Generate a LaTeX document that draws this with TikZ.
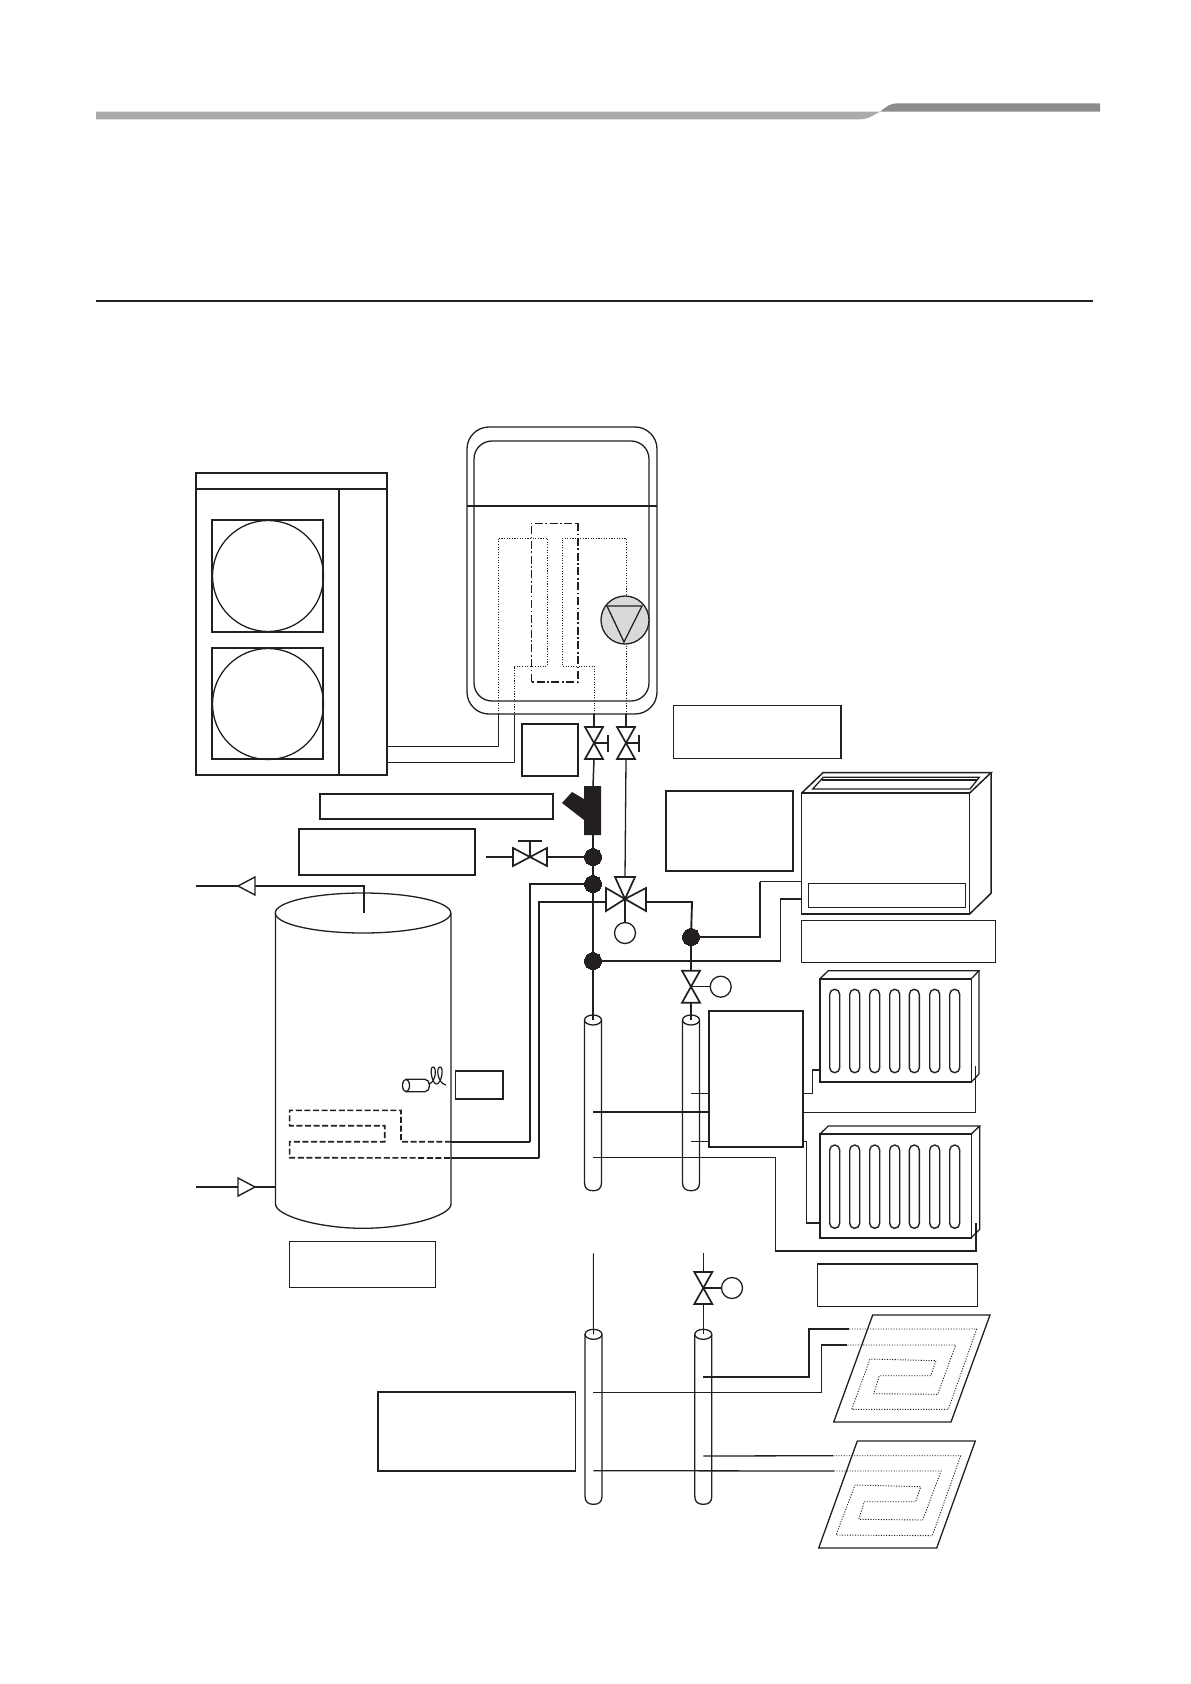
\documentclass[tikz,border=0pt]{standalone}
\usetikzlibrary{fit}
\definecolor{ink}{RGB}{35,31,32}
\tikzset{
  base/.style={draw=ink,line width=0.65pt,line join=miter},
  thin line/.style={draw=ink,line width=0.5pt},
  heavy/.style={draw=ink,line width=0.95pt},
  dots/.style={draw=ink,line width=0.45pt,dash pattern=on 0.55pt off 0.75pt},
  labelbox/.style={draw=ink,line width=0.6pt,inner sep=0pt,rectangle,fill=white},
  labelheavy/.style={labelbox,line width=0.85pt},
  junction/.style={circle,fill=ink,draw=ink,line width=0pt,minimum size=8.5pt,inner sep=0pt},
  actuator/.style={circle,draw=ink,line width=0.65pt,fill=white,minimum size=10.5pt,inner sep=0pt},
  valve/.style={draw=ink,line width=0.85pt,fill=white,line join=miter},
  slot/.style={draw=ink,line width=0.7pt,rounded corners=2.5pt},
}
\newcommand\boxn[6][labelbox]{\node[#1,fit={(#3,#4)(#5,#6)}] (#2) {};}
\newcommand\vvalve[3]{%
  \coordinate (#1-t) at (#2,#3-16);\coordinate (#1-b) at (#2,#3+16);\coordinate (#1-c) at (#2,#3);
  \draw[valve] (#2-9,#3-16) -- (#2+9,#3-16) -- (#2-9,#3+16) -- (#2+9,#3+16) -- cycle;}
\newcommand\pipe[5]{% name cx ytop ybottom
  \coordinate (#1-top) at (#2,#3);
  \draw[base,fill=white] (#2-8.5,#3) -- (#2-8.5,#4-8) .. controls (#2-8.5,#4-2) and (#2-5,#4) .. (#2,#4)
     .. controls (#2+5,#4) and (#2+8.5,#4-2) .. (#2+8.5,#4-8) -- (#2+8.5,#3);
  \draw[base,fill=white] (#2,#3) ellipse[x radius=8.5,y radius=5];}
\newcommand\slotrow[2]{\foreach \sx in {834.7,854.7,874.7,894.7,914.3,934.7,954.7}
  {\draw[slot] (\sx-5,#1) rectangle (\sx+5,#2);}}
\begin{document}
\begin{tikzpicture}[x=0.5pt,y=-0.5pt]
\useasboundingbox (0,0) rectangle (1190,1684);
% header bar
\fill[black!33] (96,111.7) -- (880,111.7) .. controls (872,116) and (868,119.3) .. (860,119.3) -- (96,119.3) -- cycle;
\fill[black!45] (880,111.7) .. controls (886,107) and (890,103.3) .. (897,103.3) -- (1100,103.3) -- (1100,111.7) -- cycle;
\coordinate (ruleL) at (95.6,300.7);\coordinate (ruleR) at (1093.4,300.7);
\draw[heavy] (ruleL) -- (ruleR);

% outdoor unit
\draw[base,line width=0.75pt] (196,473) rectangle (387,775);
\draw[base,line width=0.8pt] (196,489) -- (387,489);
\draw[base,line width=0.8pt] (339,489) -- (339,775);
\draw[base,line width=0.55pt] (212,520) rectangle (323,632);
\draw[base,line width=0.55pt] (212,648) rectangle (323,759);
\draw[base] (268,576) circle[radius=55.5];
\draw[base] (268,704) circle[radius=55.5];

% hydro unit
\draw[base] (467,427+0) [rounded corners=11pt] rectangle (657,714);
\draw[base] (474,441) [rounded corners=9pt] rectangle (649,701);
\draw[base] (467,506) -- (657,506);
\draw[draw=ink,line width=0.5pt,dash pattern=on 4pt off 1.3pt on 0.8pt off 1.3pt] (531,682) -- (531,523) -- (578,523);
\draw[draw=ink,line width=0.85pt,dash pattern=on 4pt off 1.3pt on 0.8pt off 1.3pt] (578,523) -- (578,682) -- (531,682);
\coordinate (d1) at (498,714);\coordinate (d2) at (514,714);\coordinate (d3) at (594,714);\coordinate (d4) at (626,714);
\draw[dots] (d1) -- (498,538) -- (547,538) -- (547,666) -- (514,666) -- (d2);
\draw[dots] (d3) -- (594,666) -- (562,666) -- (562,538) -- (626,538) -- (d4);
\coordinate (odu1) at (387,746);\coordinate (odu2) at (387,762);
\draw[thin line] (odu1) -- (498,746) -- (d1);
\draw[thin line] (odu2) -- (514,762) -- (d2);
\node[circle,draw=ink,line width=0.65pt,fill=black!15,minimum size=24pt,inner sep=0pt] (pump) at (625,620) {};
\draw[base] (607,606) -- (642,606) -- (624,642) -- cycle;

% label boxes
\boxn{b1}{522}{724}{578}{776}
\boxn{b2}{673.3}{705.7}{841}{758.3}
\boxn{b3}{320}{794}{553}{819}
\boxn[labelheavy]{b4}{299}{829}{475}{875}
\boxn[labelheavy]{b5}{665.7}{790.7}{793.3}{870.7}
\boxn{b6}{801.3}{920.3}{995.3}{962.3}
\boxn[labelheavy]{b7}{455.6}{1070.7}{503}{1099.3}
\boxn{b8}{289.6}{1241.3}{435.6}{1287.3}
\boxn{b9}{817.3}{1264}{977.3}{1306.3}
\boxn{b10}{378}{1392}{575.3}{1471}

% valves at unit
\vvalve{v1}{594}{743}
\vvalve{v2}{626}{743}
\coordinate (h1) at (608,743);\coordinate (h2) at (639,743);
\draw[base] (v1-c) -- (h1) (608,735) -- (608,752);
\draw[base] (v2-c) -- (h2) (639,735) -- (639,752);
\draw[base] (d3) -- (v1-t);
\draw[base] (d4) -- (v2-t);

% strainer
\coordinate (st-t) at (593,786);\coordinate (st-b) at (593,835);
\fill[ink] (584,786) -- (601,786) -- (601,835) -- (584,835) -- (584,820) -- (562,803) -- (572,792) -- (584,799) -- cycle;
\draw[base,line width=0.75pt] (v1-b) -- (st-t);

% junctions
\node[junction] (j1) at (593,857) {};
\node[junction] (j2) at (593,884) {};
\node[junction] (j3) at (593,961) {};
\node[junction] (j4) at (691,937) {};
\draw[base,line width=0.75pt] (st-b) -- (j1) -- (j2) -- (j3);

% drain valve
\coordinate (dr) at (486,857);\coordinate (drL) at (513,857);\coordinate (drR) at (547,857);\coordinate (drS) at (530,841);
\draw[base,line width=0.75pt] (dr) -- (drL) (drR) -- (j1);
\draw[valve] (513,848) -- (513,866) -- (547,848) -- (547,866) -- cycle;
\draw[base] (530,857) -- (drS) (518,841) -- (542,841);

% three-way valve
\coordinate (tv) at (625,899);
\coordinate (tvT) at (625,877);\coordinate (tvL) at (606,902);\coordinate (tvR) at (646,902);
\draw[base] (v2-b) -- (tvT);
\node[actuator] (tvA) at (625,933) {};
\draw[base] (tv) -- (tvA);
\draw[valve] (tv) -- (615,877) -- (635,877) -- cycle;
\draw[valve] (tv) -- (606,888) -- (606,911) -- cycle;
\draw[valve] (tv) -- (646,888) -- (646,911) -- cycle;
\draw[heavy] (tvR) -- (692,902) -- (j4);

% tank
\draw[base] (275.5,913) -- (275.5,1204) .. controls (275.5,1216) and (320,1228.3) .. (363,1228.3)
   .. controls (406,1228.3) and (451,1216) .. (451,1204) -- (451,913);
\draw[base] (363,913) ellipse[x radius=87.75,y radius=20];
\coordinate (inA) at (195.5,886);\coordinate (inB) at (364,913);
\draw[base,line width=0.75pt] (inA) -- (364,886) -- (inB);
\draw[valve,line width=0.7pt] (238,886) -- (255,877) -- (255,895) -- cycle;
\coordinate (inC) at (195.5,1187);\coordinate (inD) at (275.5,1187);
\draw[base] (inC) -- (inD);
\draw[valve,line width=0.7pt] (255,1187) -- (238,1178) -- (238,1196) -- cycle;
% tank coil
\coordinate (cA) at (451,1141.7);\coordinate (cB) at (451,1158);
\draw[draw=ink,line width=0.8pt,dash pattern=on 3pt off 1.3pt]
  (cA) -- (401,1141.7) -- (401,1110.3) -- (289.6,1110.3) -- (289.6,1125.7) -- (384.7,1125.7) -- (384.7,1141.7) -- (289.6,1141.7) -- (289.6,1157.7) -- (cB);
\draw[heavy,line width=0.85pt] (cA) -- (530,1141.7);
\draw[base] (530,1141.7) -- (530,884) -- (j2);
\draw[base] (cB) -- (539,1158);
\draw[heavy] (539,1158) -- (539,902) -- (tvL);
% heater
\draw[base] (406,1079.3) -- (425,1079.3) .. controls (431,1079.3) and (431,1091.7) .. (425,1091.7) -- (406,1091.7);
\draw[base] (406,1085.5) ellipse[x radius=3.5,y radius=6.2];
\draw[base,line width=0.6pt] (429,1084) .. controls (436,1082) and (437,1067) .. (433,1067) .. controls (429,1067) and (432,1085) .. (437,1084) .. controls (442,1082) and (444,1067) .. (440,1067) .. controls (436,1067) and (437,1083) .. (446,1085);

% upper pipes
\vvalve{v3}{691}{986.7}
\node[actuator] (v3A) at (720.7,986.7) {};
\draw[base] (v3-c) -- (v3A);
\draw[base] (j4) -- (v3-t);
\pipe{p1}{593}{1020}{1190.7}{}
\pipe{p2}{691}{1020}{1190.7}{}
\draw[base,line width=0.75pt] (j3) -- (p1-top);
\draw[base] (v3-b) -- (p2-top);

% fan coil
\coordinate (fc1) at (801.7,881.7);\coordinate (fc2) at (801.7,899);
\draw[heavy] (j4) -- (760,937) -- (760,881.7);
\draw[base] (760,881.7) -- (fc1);
\draw[base] (j3) -- (780.7,961) -- (780.7,899) -- (fc2);
\draw[base,line width=0.75pt] (801.7,793) rectangle (969.7,914);
\draw[base,line width=0.75pt] (801.7,793) -- (823,772.7) -- (991,772.7) -- (969.7,793);
\draw[base,line width=0.75pt] (991,772.7) -- (991,893.3) -- (969.7,914);
\draw[base] (812.7,789) -- (823.3,777.3) -- (979.3,777.3) -- (970,789) -- cycle;
\draw[heavy] (821.7,780) -- (977,780);
\draw[base] (808.3,883.3) rectangle (965.7,907.3);

% manifold
\boxn[labelheavy]{mf}{709}{1011}{803.3}{1146.7}
\coordinate (m1) at (709,1093.3);\coordinate (m2) at (709,1112);\coordinate (m3) at (709,1141.7);
\draw[thin line] (691,1093.3) -- (m1);
\draw[base,line width=0.75pt] (593,1112) -- (m2);
\draw[thin line] (691,1141.7) -- (m3);

% radiators
\draw[base,line width=0.8pt] (820,978.7) rectangle (971.3,1082);
\draw[base] (820,978.7) -- (828.3,970.7) -- (979,970.7) -- (971.3,978.7);
\draw[base] (979,970.7) -- (979,1074) -- (971.3,1082);
\slotrow{989.3}{1072.7}
\draw[base,line width=0.8pt] (820,1134) rectangle (971.3,1237.7);
\draw[base] (820,1134) -- (828.3,1126) -- (979.7,1126) -- (971.3,1134);
\draw[base] (979.7,1126) -- (979.7,1229.3) -- (971.3,1237.7);
\slotrow{1145}{1228.3}
\draw[thin line] (803.3,1093.3) -- (812,1093.3) -- (812,1069.7);
\draw[heavy] (812,1069.7) -- (820,1069.7);
\draw[thin line] (803.3,1112) -- (975.3,1112) -- (975.3,1066);
\draw[thin line] (803.3,1141.7) -- (806,1141.7) -- (806,1223);
\draw[heavy] (806,1223) -- (820,1223);
\draw[base] (593,1157.7) -- (775.3,1157.7) -- (775.3,1251) -- (976,1251) -- (976,1223.3);

% lower pipes
\coordinate (l1) at (593.3,1253.3);\coordinate (l2) at (703.3,1253.3);
\vvalve{v4}{703.3}{1288}
\node[actuator] (v4A) at (732,1288) {};
\draw[base] (v4-c) -- (v4A);
\pipe{p3}{593.5}{1334.3}{1504.3}{}
\pipe{p4}{703.3}{1334.3}{1504.3}{}
\draw[thin line] (l1) -- (p3-top);
\draw[thin line] (l2) -- (v4-t);
\draw[thin line] (v4-b) -- (p4-top);

% floor loops
\draw[base] (872.7,1315) -- (990,1315) -- (951,1422) -- (833.7,1422) -- cycle;
\draw[base] (857.3,1441) -- (975.3,1441) -- (936.7,1548) -- (818.7,1548) -- cycle;
\coordinate (f1a) at (849.3,1329);\coordinate (f1b) at (847.3,1345);
\coordinate (f2a) at (833.3,1455.7);\coordinate (f2b) at (834,1471);
\draw[dots] (f1a) -- (976.7,1329) -- (948.3,1409.3) -- (851.7,1409.3) -- (870,1359) -- (936,1360.7) -- (930.7,1375.7) -- (879.3,1375.7) -- (873.7,1393.7) -- (937.7,1394.3) -- (955.7,1345) -- (f1b);
\draw[dots] (f2a) -- (960.7,1455.7) -- (932.3,1535.7) -- (836,1535) -- (855,1485) -- (920.7,1486.7) -- (915.7,1501.7) -- (864.3,1501.7) -- (858.7,1519.3) -- (922.7,1520) -- (941,1471) -- (f2b);
\draw[heavy] (703.3,1376.7) -- (809.3,1376.7) -- (809.3,1329) -- (f1a);
\draw[base] (593.3,1392.3) -- (821.3,1392.3) -- (821.3,1345);
\draw[heavy] (821.3,1345) -- (f1b);
\draw[base] (703.3,1456) -- (f2a);
\draw[base] (593.3,1470.7) -- (f2b);
\end{tikzpicture}
\end{document}
